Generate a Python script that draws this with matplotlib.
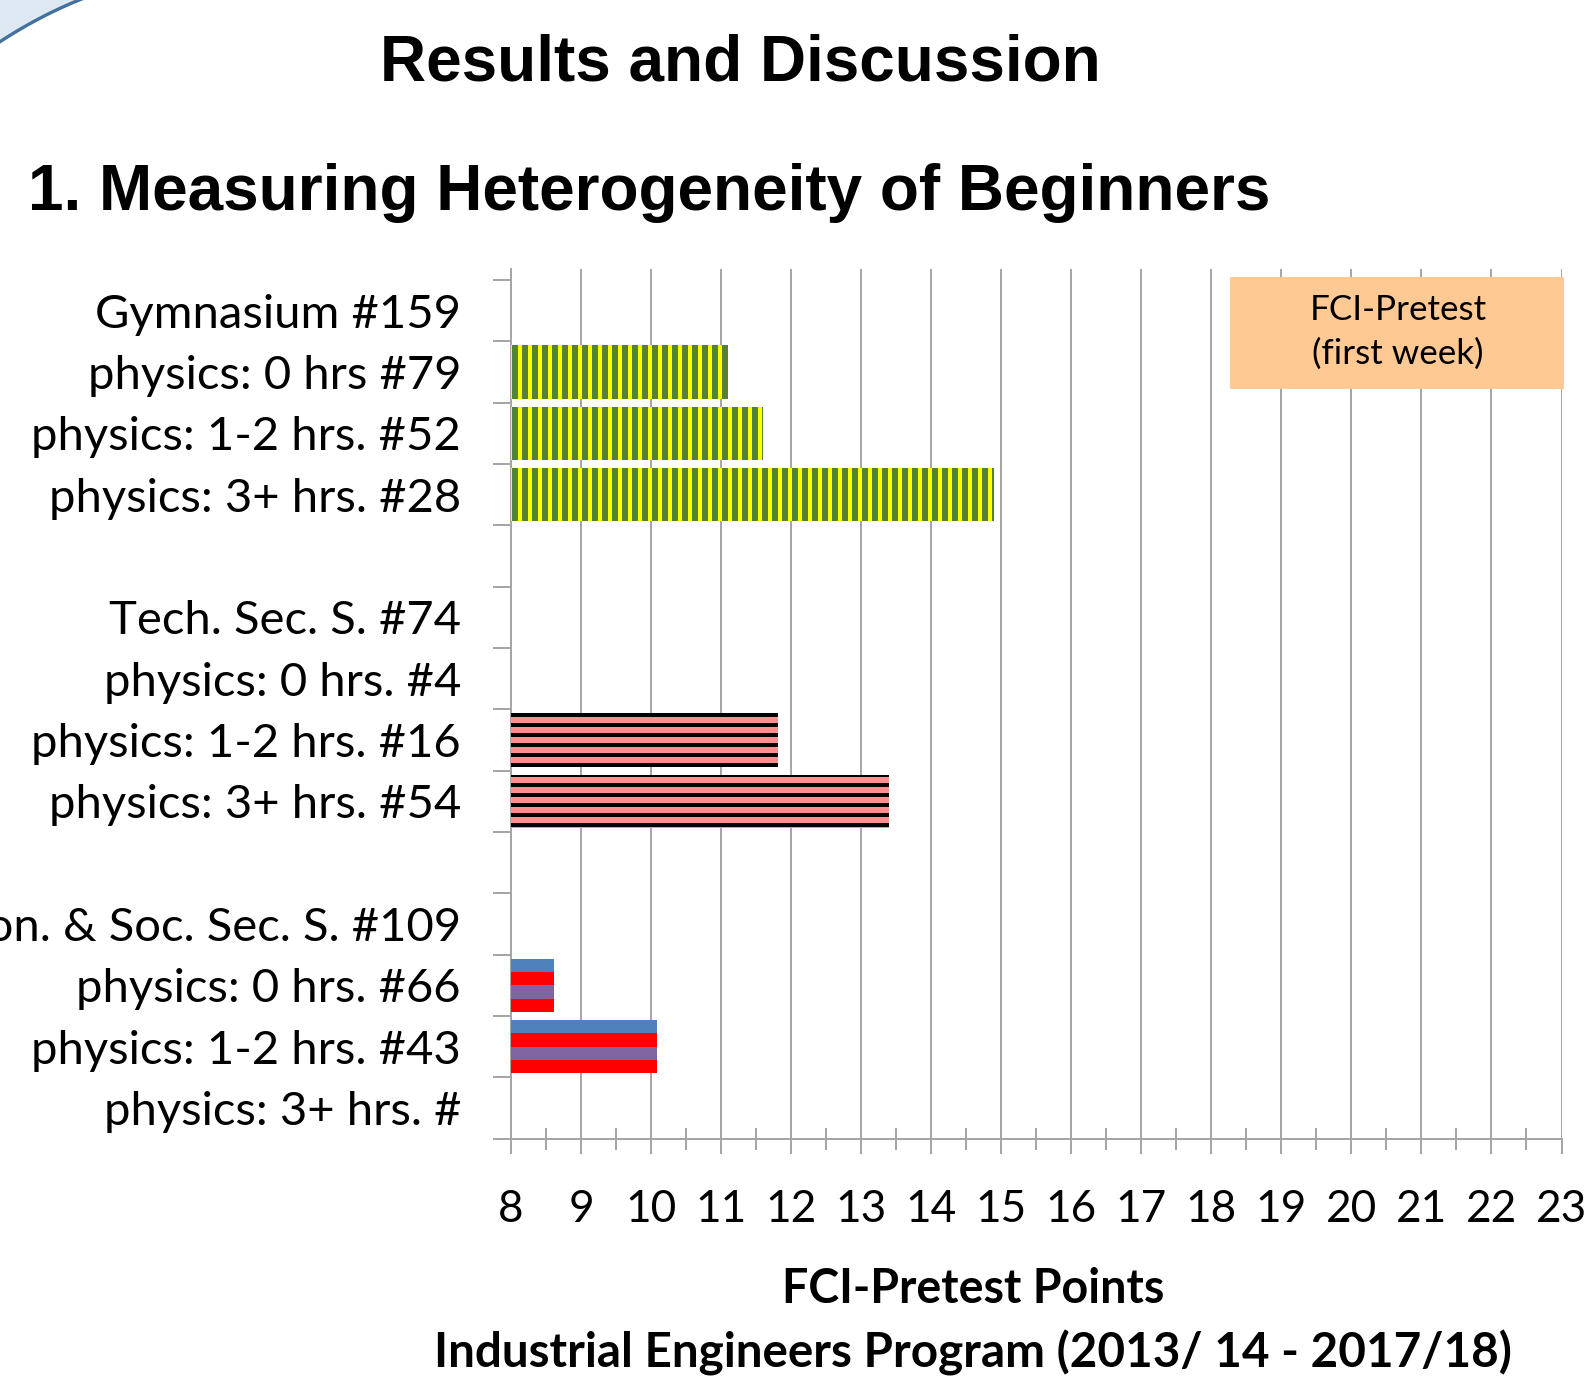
import numpy as np
import matplotlib
matplotlib.use("Agg")
import matplotlib.pyplot as plt
from matplotlib.patches import Polygon, Rectangle
from matplotlib.transforms import IdentityTransform

# -------------------------
# DATA
# -------------------------
row_labels = [
    "Gymnasium #159", "physics: 0 hrs #79", "physics: 1-2 hrs. #52", "physics: 3+ hrs. #28", "",
    "Tech. Sec. S. #74", "physics: 0 hrs. #4", "physics: 1-2 hrs. #16", "physics: 3+ hrs. #54", "",
    "Econ. & Soc. Sec. S. #109", "physics: 0 hrs. #66", "physics: 1-2 hrs. #43", "physics: 3+ hrs. #",
]

gym_rows = [1, 2, 3]
gym_scores = [11.10, 11.60, 14.89]

tech_rows = [7, 8]
tech_scores = [11.81, 13.40]

econ_rows = [11, 12]
econ_scores = [8.61, 10.09]

x_ticks = list(range(8, 24))

# -------------------------
# FIGURE
# -------------------------
W, H = 1584, 1385
DPI = 120
fig = plt.figure(figsize=(W / DPI, H / DPI), dpi=DPI)
fig.patch.set_facecolor("white")

body_font = ["Lato", "DejaVu Sans"]
title_font = ["Liberation Sans", "DejaVu Sans"]
grid_col = "#A6A6A6"

# decorative corner of the slide
xs = np.linspace(0, 95, 40)
ys = 41.7 - 0.65 * xs + 0.00156 * xs ** 2
corner = [(x, H - y) for x, y in zip(xs, ys)] + [(0, H + 10)]
fig.add_artist(Polygon(corner, closed=True, transform=IdentityTransform(),
                       facecolor="#DEE8F3", edgecolor="none"))
fig.add_artist(plt.Line2D(xs, H - ys, transform=IdentityTransform(),
                          color="#41719C", lw=2.0))

# titles
fig.text(740 / W, 1 - 80.5 / H, "Results and Discussion", family=title_font,
         weight="bold", fontsize=38.3, ha="center", va="baseline")
fig.text(28 / W, 1 - 210 / H, "1. Measuring Heterogeneity of Beginners", family=title_font,
         weight="bold", fontsize=38.3, ha="left", va="baseline")

# axes
ax = fig.add_axes([511 / W, (H - 1138.5) / H, 1050.5 / W, 869.5 / H])

h = 0.87
plt.rcParams["hatch.linewidth"] = 3.6
gym_bars = ax.barh(gym_rows, gym_scores, height=h, color="#FFFF00",
                   edgecolor="#548235", hatch="||", linewidth=0, zorder=3)
for p in gym_bars:
    if hasattr(p, "set_hatch_linewidth"):
        p.set_hatch_linewidth(3.6)

plt.rcParams["hatch.linewidth"] = 2.4
tech_bars = ax.barh(tech_rows, tech_scores, height=h, color="#FF8F8F",
                    edgecolor="black", hatch="--", linewidth=0, zorder=3)
for p in tech_bars:
    if hasattr(p, "set_hatch_linewidth"):
        p.set_hatch_linewidth(2.4)

band_colors = ["#4F81BD", "#FF0000", "#8064A2", "#FF0000"]
for k, c in enumerate(band_colors):
    offs = -h / 2 + (k + 0.5) * h / 4
    ax.barh(np.array(econ_rows) + offs, econ_scores, height=h / 4,
            color=c, linewidth=0, zorder=3)

ax.set_xlim(8, 23)
ax.set_ylim(13.5, -0.68)

ax.set_xticks(x_ticks)
ax.set_xticks(np.arange(8.5, 23, 1), minor=True)
ax.tick_params(axis="x", which="major", direction="out", length=9, width=1.2,
               color=grid_col, labelsize=26.5, pad=21)
ax.tick_params(axis="x", which="minor", direction="inout", length=13, width=1.2,
               color=grid_col)
for t in ax.get_xticklabels():
    t.set_family(body_font)

ax.set_yticks(np.arange(-0.5, 14, 1))
ax.set_yticklabels([])
ax.set_yticks(range(len(row_labels)), minor=True)
ax.set_yticklabels(row_labels, minor=True)
ax.tick_params(axis="y", which="major", direction="out", length=11, width=1.2,
               color=grid_col)
ax.tick_params(axis="y", which="minor", length=0, labelsize=28.3, pad=30)
for t in ax.get_yticklabels(minor=True):
    t.set_family(body_font)

ax.grid(axis="x", which="major", color=grid_col, lw=1.2, zorder=1)
ax.set_axisbelow(True)
for s in ["top", "right"]:
    ax.spines[s].set_visible(False)
for s in ["left", "bottom"]:
    ax.spines[s].set_color(grid_col)
    ax.spines[s].set_linewidth(1.2)

# legend-like box
fig.add_artist(Rectangle((1230 / W, 1 - 389 / H), 334 / W, 112 / H,
                         transform=fig.transFigure, facecolor="#FFC993",
                         edgecolor="none", zorder=5))
fig.text(1398 / W, 1 - 332 / H, "FCI-Pretest\n(first week)", family=body_font,
         fontsize=21, ha="center", va="center", linespacing=1.45, zorder=6)

# axis title
fig.text(973 / W, 1 - 1289 / H, "FCI-Pretest Points", family=body_font,
         weight="bold", fontsize=28, ha="center", va="center")
fig.text(973 / W, 1 - 1353 / H, "Industrial Engineers Program (2013/ 14 - 2017/18)",
         family=body_font, weight="bold", fontsize=28.6, ha="center", va="center")

fig.savefig("out.png", dpi=DPI)
